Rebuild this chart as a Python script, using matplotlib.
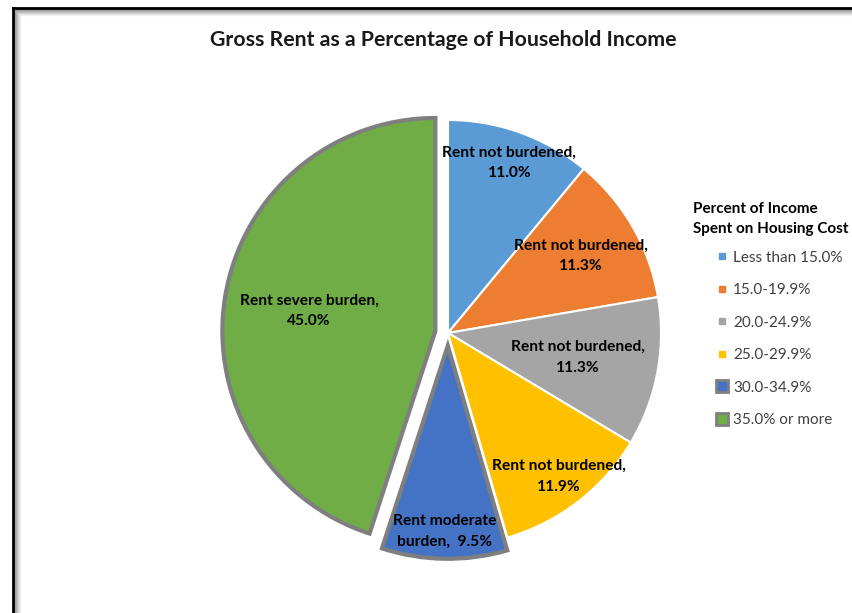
import matplotlib.pyplot as plt
from matplotlib.lines import Line2D
import numpy as np

plt.rcParams['font.family'] = ['Lato', 'DejaVu Sans']

# Share of renter households by rent burden bracket
brackets = ['Less than 15.0%', '15.0-19.9%', '20.0-24.9%', '25.0-29.9%',
            '30.0-34.9%', '35.0% or more']
burden = ['Rent not burdened', 'Rent not burdened', 'Rent not burdened',
          'Rent not burdened', 'Rent moderate\nburden', 'Rent severe burden']
shares = [11.0, 11.3, 11.3, 11.9, 9.5, 45.0]

colors = ['#5B9BD5', '#ED7D31', '#A5A5A5', '#FFC000', '#4472C4', '#70AD47']
explode = [0, 0, 0, 0, 0.06, 0.06]
label_r = [0.85, 0.72, 0.62, 0.85, 0.87, 0.60]

fig = plt.figure(figsize=(8.53, 6.13), dpi=100)
ax = fig.add_axes([0, 0, 1, 1])

wedges, _ = ax.pie(shares, colors=colors, explode=explode, startangle=90,
                   counterclock=False, radius=1.0,
                   wedgeprops=dict(edgecolor='white', linewidth=1.5))
for w in wedges[4:]:
    w.set_edgecolor('#7F7F7F')
    w.set_linewidth(3)

# slice labels placed along each wedge's middle angle
for w, name, val, r, ex in zip(wedges, burden, shares, label_r, explode):
    ang = np.deg2rad((w.theta1 + w.theta2) / 2)
    cx, cy = w.center
    sep = ',  ' if '\n' in name else ',\n'
    ax.text(cx + r * np.cos(ang), cy + r * np.sin(ang),
            f'{name}{sep}{val:.1f}%', ha='center', va='center',
            fontsize=11.2, fontweight='bold', color='black', linespacing=1.6)

ax.set_xlim(-448 / 213, (853 - 448) / 213)
ax.set_ylim(-280 / 213, 333 / 213)
ax.set_aspect('auto')
ax.axis('off')

fig.text(443 / 853, 1 - 40 / 613, 'Gross Rent as a Percentage of Household Income',
         ha='center', va='center', fontsize=15.3, fontweight='bold', color='#1a1a1a')

# legend
fig.text(693 / 853, 1 - 219 / 613, 'Percent of Income\nSpent on Housing Cost',
         ha='left', va='center', fontsize=11, fontweight='bold',
         linespacing=1.5)
handles = []
for i, c in enumerate(colors):
    if i < 4:
        handles.append(Line2D([], [], ls='none', marker='s', markersize=5,
                              markerfacecolor=c, markeredgecolor=c))
    else:
        handles.append(Line2D([], [], ls='none', marker='s', markersize=8,
                              markerfacecolor=c, markeredgecolor='#7F7F7F',
                              markeredgewidth=2))
fig.legend(handles, brackets, loc='upper left',
           bbox_to_anchor=(710 / 853, 1 - 243 / 613), frameon=False,
           fontsize=11, labelspacing=1.21, handlelength=0.6,
           handletextpad=0.4, borderpad=0, labelcolor='#404040')

# chart frame with soft inner shadow
for k in range(7):
    g = 0.55 + k * 0.065
    fig.add_artist(Line2D([(14 + k) / 853, 1], [1 - (9 + k) / 613] * 2,
                          color=str(min(g, 1)), lw=1))
    fig.add_artist(Line2D([(14 + k) / 853] * 2, [0, 1 - (9 + k) / 613],
                          color=str(min(g, 1)), lw=1))
fig.add_artist(Line2D([13 / 853, 1], [1 - 8 / 613] * 2, color='black', lw=2))
fig.add_artist(Line2D([13 / 853] * 2, [0, 1 - 8 / 613], color='black', lw=2))

fig.savefig('out.png', dpi=100)
